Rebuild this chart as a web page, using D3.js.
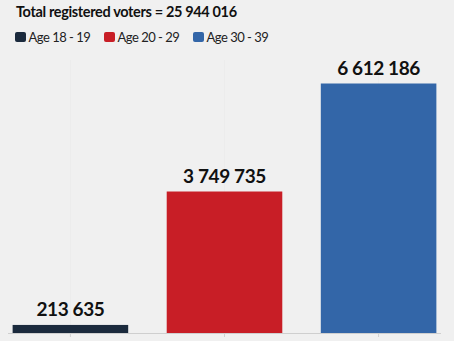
<!DOCTYPE html>
<html>
<head>
<meta charset="utf-8">
<script src="https://cdn.jsdelivr.net/npm/d3@7"></script>
<style>
  html, body { margin: 0; padding: 0; background: #f0f0f0; }
  svg { display: block; }
  text { font-family: Lato, "Open Sans", sans-serif; }
</style>
</head>
<body>
<svg id="chart" width="454" height="341"></svg>
<script>
const categories = ["Age 18 - 19", "Age 20 - 29", "Age 30 - 39"];
const voters = [213635, 3749735, 6612186];
const colors = ["#1b2a3d", "#c81e26", "#3366a8"];
const totalVoters = 25944016;

const W = 454, H = 341;
const baseline = 333;
const plotTop = 83.5;

const fmt = v => d3.format(",")(v).replace(/,/g, " ");

const svg = d3.select("#chart");
svg.append("rect").attr("width", W).attr("height", H).attr("fill", "#f0f0f0");

const x = d3.scaleBand()
  .domain(categories)
  .range([8, 441])
  .paddingInner(0.25)
  .paddingOuter(0.03);

const y = d3.scaleLinear()
  .domain([0, 6612186])
  .range([baseline, plotTop]);

// faint vertical guides at each category
svg.append("g")
  .selectAll("line")
  .data(categories)
  .join("line")
  .attr("x1", d => x(d) + x.bandwidth() / 2)
  .attr("x2", d => x(d) + x.bandwidth() / 2)
  .attr("y1", 60)
  .attr("y2", baseline)
  .attr("stroke", "#ececec")
  .attr("stroke-width", 1);

// bars
svg.append("g")
  .selectAll("rect")
  .data(voters)
  .join("rect")
  .attr("x", (d, i) => x(categories[i]))
  .attr("y", d => y(d))
  .attr("width", x.bandwidth())
  .attr("height", d => baseline - y(d))
  .attr("fill", (d, i) => colors[i]);

// value labels
svg.append("g")
  .selectAll("text")
  .data(voters)
  .join("text")
  .attr("x", (d, i) => x(categories[i]) + x.bandwidth() / 2)
  .attr("y", d => y(d) - 9)
  .attr("text-anchor", "middle")
  .attr("font-size", "19px")
  .attr("font-weight", "bold")
  .attr("letter-spacing", "-0.4px")
  .attr("fill", "#111")
  .text(d => fmt(d));

// x axis
const axis = svg.append("g")
  .attr("transform", `translate(0,${baseline})`)
  .call(d3.axisBottom(x).tickSize(4).tickFormat(""));
axis.select(".domain").attr("stroke", "#cfcfcf").attr("d", `M8,0.5H441`);
axis.selectAll(".tick line").attr("stroke", "#d0d0d0");

// title
svg.append("text")
  .attr("x", 16)
  .attr("y", 16.5)
  .attr("font-size", "14.5px")
  .attr("font-weight", "bold")
  .attr("letter-spacing", "-0.35px")
  .attr("fill", "#111")
  .text("Total registered voters = " + fmt(totalVoters));

// legend
const legendX = [15, 104, 193];
const legend = svg.append("g")
  .selectAll("g")
  .data(categories)
  .join("g")
  .attr("transform", (d, i) => `translate(${legendX[i]},32)`);
legend.append("rect")
  .attr("width", 11).attr("height", 10).attr("rx", 2)
  .attr("fill", (d, i) => colors[i]);
legend.append("text")
  .attr("x", 13.5).attr("y", 9.5)
  .attr("font-size", "13px")
  .attr("letter-spacing", "-0.5px")
  .attr("fill", "#222")
  .text(d => d);
</script>
</body>
</html>
